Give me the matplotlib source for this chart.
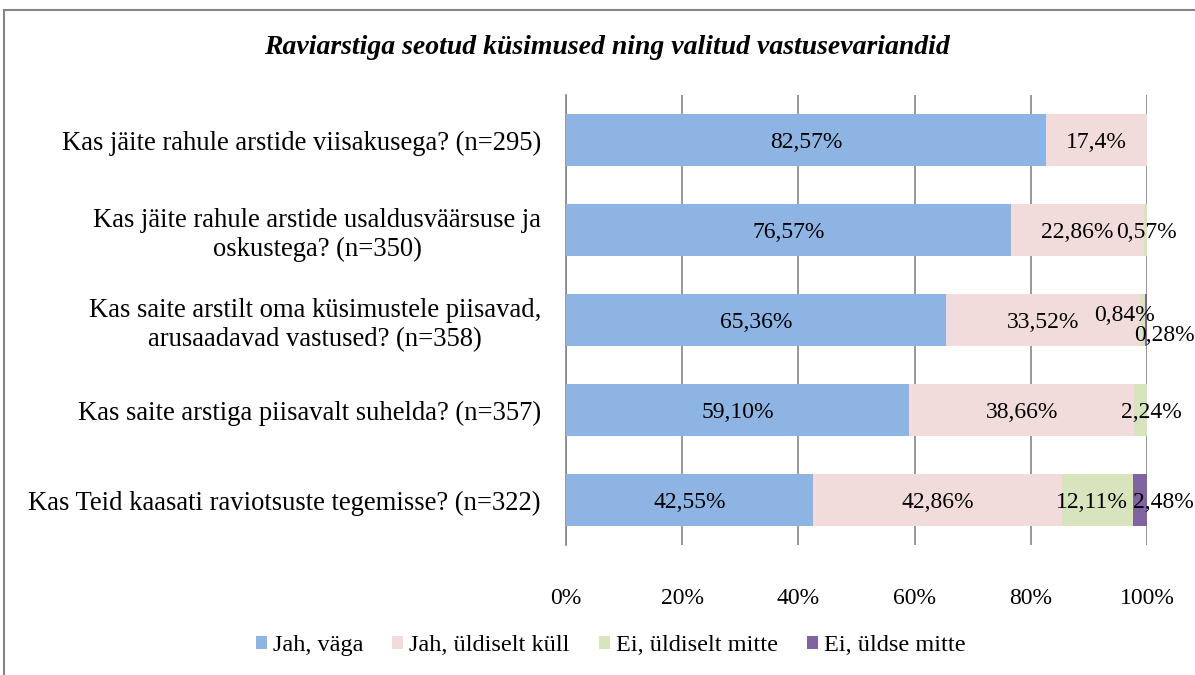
import matplotlib.pyplot as plt
from matplotlib.patches import Rectangle

plt.rcParams['font.family'] = ['Liberation Serif', 'DejaVu Serif']

# andmed
kusimused = [
    "Kas jäite rahule arstide viisakusega? (n=295)",
    "Kas jäite rahule arstide usaldusväärsuse ja\noskustega? (n=350)",
    "Kas saite arstilt oma küsimustele piisavad,\narusaadavad vastused? (n=358)",
    "Kas saite arstiga piisavalt suhelda? (n=357)",
    "Kas Teid kaasati raviotsuste tegemisse? (n=322)",
]
vastused = ["Jah, väga", "Jah, üldiselt küll", "Ei, üldiselt mitte", "Ei, üldse mitte"]
jah_vaga = [82.57, 76.57, 65.36, 59.10, 42.55]
jah_kull = [17.4, 22.86, 33.52, 38.66, 42.86]
ei_mitte = [0, 0.57, 0.84, 2.24, 12.11]
ei_uldse = [0, 0, 0.28, 0, 2.48]
sildid = [
    ["82,57%", "17,4%", "", ""],
    ["76,57%", "22,86%", "0,57%", ""],
    ["65,36%", "33,52%", "0,84%", "0,28%"],
    ["59,10%", "38,66%", "2,24%", ""],
    ["42,55%", "42,86%", "12,11%", "2,48%"],
]
varvid = ["#8EB4E3", "#F2DCDB", "#D7E4BD", "#8064A2"]

# väikeste lõikude siltide nihked (punktides)
nihked = {
    (1, 2): (1, 0), (2, 2): (-13, 5), (2, 3): (13, -9),
    (3, 2): (8, 0), (4, 2): (-4, 0), (4, 3): (17, 0),
}

fig = plt.figure(figsize=(11.95, 6.75), dpi=100)
ax = fig.add_axes([0.4736, 0.1926, 0.4862, 0.6664])

read = list(range(len(kusimused)))
seeriad = [jah_vaga, jah_kull, ei_mitte, ei_uldse]
vasak = [0] * len(kusimused)
for s, (vaartused, nimi, varv) in enumerate(zip(seeriad, vastused, varvid)):
    ribad = ax.barh(read, vaartused, left=vasak, height=0.58, color=varv,
                    label=nimi, zorder=3)
    for i, r in enumerate(ribad):
        tekst = sildid[i][s]
        if not tekst:
            continue
        cx = r.get_x() + r.get_width() / 2
        cy = r.get_y() + r.get_height() / 2
        dx, dy = nihked.get((i, s), (0, 0))
        ax.annotate(tekst, (cx, cy), xytext=(dx, dy - 2), textcoords="offset points",
                    ha="center", va="center", fontsize=17, zorder=5)
    vasak = [a + b for a, b in zip(vasak, vaartused)]

ax.set_xlim(0, 100)
ax.set_ylim(len(kusimused) - 0.5, -0.5)
ax.set_xticks(range(0, 101, 20))
ax.set_xticklabels([f"{v}%" for v in range(0, 101, 20)], fontsize=17)
ax.set_yticks(read)
ax.set_yticklabels(kusimused, fontsize=19.2, multialignment="center")
ax.tick_params(axis="x", length=0, pad=31)
ax.tick_params(axis="y", length=0, pad=18)
ax.grid(axis="x", color="#868686", linewidth=1.2, zorder=0)
for side in ["top", "right", "bottom"]:
    ax.spines[side].set_visible(False)
ax.spines["left"].set_color("#868686")
ax.spines["left"].set_linewidth(1.2)

fig.text(0.508, 0.929, "Raviarstiga seotud küsimused ning valitud vastusevariandid",
         ha="center", va="center", fontsize=20, fontstyle="italic", fontweight="bold")

fig.legend(loc="center", bbox_to_anchor=(0.511, 0.043), ncol=4, frameon=False,
           fontsize=17.5, handlelength=0.45, handleheight=0.45, handletextpad=0.25,
           columnspacing=1.2)

fig.patches.append(Rectangle((0.0035, -0.1), 1.1, 1.085, transform=fig.transFigure,
                             fill=False, edgecolor="#868686", linewidth=1.5))

fig.savefig("out.png", dpi=100)
